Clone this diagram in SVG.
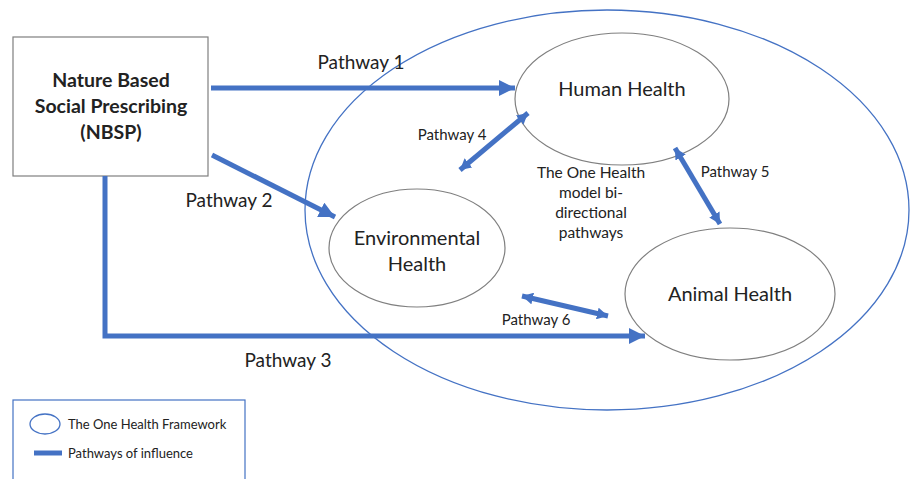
<svg xmlns="http://www.w3.org/2000/svg" width="911" height="479" viewBox="0 0 911 479">
<style>
.ell{fill:#fff;stroke:#7f7f7f;stroke-width:1.2}
.big{fill:none;stroke:#4472c4;stroke-width:1.3}
.con{fill:none;stroke:#4472c4;stroke-width:5}
.t{font-family:Lato,"Open Sans",sans-serif;fill:#222;text-anchor:middle}
.lbl{font-size:19px}
.sm{font-size:15px}
.node{font-size:20px}
</style>
<defs>
<marker id="ah" markerUnits="userSpaceOnUse" markerWidth="16" markerHeight="16" refX="14" refY="7" orient="auto-start-reverse" viewBox="0 0 14 14">
<path d="M0,0 L14,7 L0,14 Z" fill="#4472c4"/>
</marker>
<marker id="ahs" markerUnits="userSpaceOnUse" markerWidth="12" markerHeight="12" refX="11" refY="6" orient="auto-start-reverse" viewBox="0 0 12 12">
<path d="M0,0 L11,6 L0,12 Z" fill="#4472c4"/>
</marker>
</defs>
<rect width="911" height="479" fill="#fff"/>
<ellipse id="framework" class="big" cx="607" cy="210" rx="302" ry="200"/>
<g id="nbsp">
<rect x="13" y="37" width="195" height="139" fill="#fff" stroke="#7f7f7f" stroke-width="1.2"/>
<text class="t" font-weight="bold" font-size="19.5" x="111" y="87">Nature Based</text>
<text class="t" font-weight="bold" font-size="19.5" x="111" y="113">Social Prescribing</text>
<text class="t" font-weight="bold" font-size="19.5" x="111" y="139">(NBSP)</text>
</g>
<g id="human">
<ellipse class="ell" cx="622" cy="99" rx="107" ry="66"/>
<text class="t node" x="622" y="96">Human Health</text>
</g>
<g id="environmental">
<ellipse class="ell" cx="417" cy="248" rx="88" ry="59"/>
<text class="t node" x="417" y="245">Environmental</text>
<text class="t node" x="417" y="271">Health</text>
</g>
<g id="animal">
<ellipse class="ell" cx="730" cy="294" rx="105" ry="66"/>
<text class="t node" x="730" y="301">Animal Health</text>
</g>
<g id="center-text" class="t" font-size="15.5">
<text x="591" y="178">The One Health</text>
<text x="591" y="198">model bi-</text>
<text x="591" y="218">directional</text>
<text x="591" y="238">pathways</text>
</g>
<g id="connectors">
<path class="con" d="M211,88 L515,88" marker-end="url(#ah)"/>
<path class="con" d="M212,155 L335,217" marker-end="url(#ah)"/>
<path class="con" d="M105,176 L105,336 L645,336" marker-end="url(#ah)"/>
<path class="con" d="M460,170 L528,113" marker-start="url(#ahs)" marker-end="url(#ahs)"/>
<path class="con" d="M675,148 L720,224" marker-start="url(#ahs)" marker-end="url(#ahs)"/>
<path class="con" d="M522,296 L608,316" marker-start="url(#ahs)" marker-end="url(#ahs)"/>
</g>
<g id="labels" class="t">
<text class="lbl" x="361" y="69">Pathway 1</text>
<text class="lbl" x="229" y="207">Pathway 2</text>
<text class="lbl" x="288" y="367">Pathway 3</text>
<text class="sm" x="452" y="140">Pathway 4</text>
<text class="sm" x="735" y="177">Pathway 5</text>
<text class="sm" x="536" y="325">Pathway 6</text>
</g>
<g id="legend">
<rect x="13" y="400" width="232" height="90" fill="#fff" stroke="#4472c4" stroke-width="1.2"/>
<ellipse cx="45" cy="424" rx="15" ry="10" fill="#fff" stroke="#4472c4" stroke-width="1.3"/>
<text x="68" y="429" font-family="Lato,'Open Sans',sans-serif" font-size="13" fill="#222">The One Health Framework</text>
<line x1="34" y1="453" x2="62" y2="453" stroke="#4472c4" stroke-width="5"/>
<text x="68" y="458" font-family="Lato,'Open Sans',sans-serif" font-size="13" fill="#222">Pathways of influence</text>
</g>
</svg>
